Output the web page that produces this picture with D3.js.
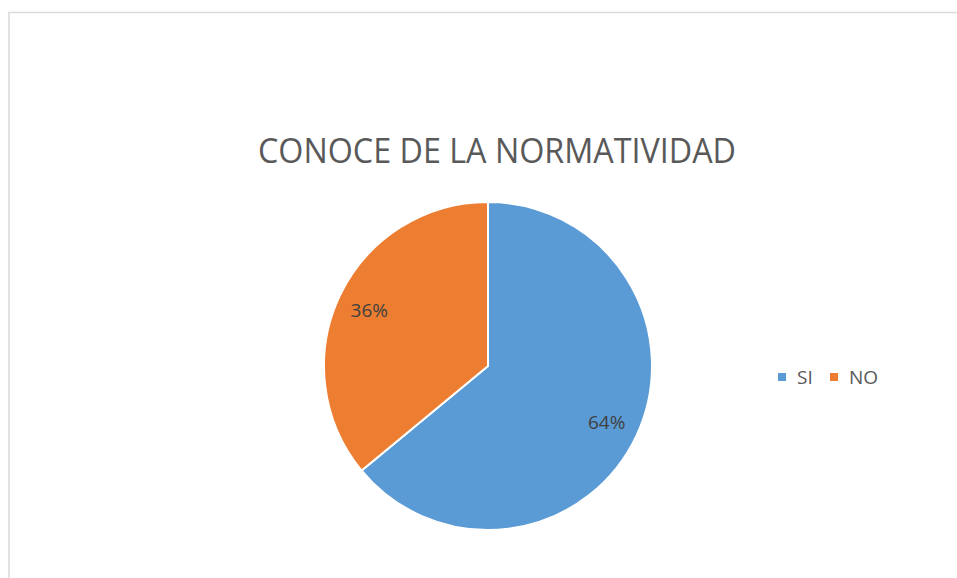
<!DOCTYPE html>
<html>
<head>
<meta charset="utf-8">
<script src="https://cdn.jsdelivr.net/npm/d3@7"></script>
<style>
  body { margin: 0; background: #fff; }
  text { font-family: "Open Sans", "Liberation Sans", sans-serif; }
</style>
</head>
<body>
<div id="chart"></div>
<script>
// data
var categories = ["SI", "NO"];
var values = [64, 36];
var colors = ["#5b9bd5", "#ed7d31"];
var chartTitle = "CONOCE DE LA NORMATIVIDAD";

var width = 957, height = 578;
var cx = 488, cy = 366, radius = 164;

var svg = d3.select("#chart").append("svg")
    .attr("width", width)
    .attr("height", height);

// chart area border (only top and left are visible)
svg.append("path")
    .attr("d", "M9,578 V12.5 H957")
    .attr("fill", "none")
    .attr("stroke", "#d9d9d9")
    .attr("stroke-width", 1.5);

// title, stretched to the width seen in the reference
var title = svg.append("text")
    .attr("x", 497)
    .attr("y", 163)
    .attr("text-anchor", "middle")
    .attr("fill", "#595959")
    .style("font-size", "34px")
    .text(chartTitle);
title.attr("textLength", 478).attr("lengthAdjust", "spacingAndGlyphs");

var data = categories.map(function(c, i) { return { name: c, value: values[i] }; });
var color = d3.scaleOrdinal().domain(categories).range(colors);

var pie = d3.pie().sort(null).value(function(d) { return d.value; });
var arc = d3.arc().innerRadius(0).outerRadius(radius);
var labelArc = d3.arc().innerRadius(radius * 0.8).outerRadius(radius * 0.8);

var g = svg.append("g")
    .attr("transform", "translate(" + cx + "," + cy + ")");

var slices = g.selectAll(".slice")
    .data(pie(data))
    .enter().append("g")
    .attr("class", "slice");

slices.append("path")
    .attr("d", arc)
    .attr("fill", function(d) { return color(d.data.name); })
    .attr("stroke", "#fff")
    .attr("stroke-width", 2);

var total = d3.sum(values);
slices.append("text")
    .attr("transform", function(d) { return "translate(" + labelArc.centroid(d) + ")"; })
    .attr("text-anchor", "middle")
    .attr("dy", "0.35em")
    .attr("fill", "#404040")
    .style("font-size", "19px")
    .text(function(d) { return Math.round(d.data.value / total * 100) + "%"; });

// legend
var legendX = [778, 830];
var legend = svg.selectAll(".legend")
    .data(categories)
    .enter().append("g")
    .attr("class", "legend")
    .attr("transform", function(d, i) { return "translate(" + legendX[i] + ",377)"; });

legend.append("rect")
    .attr("x", 0)
    .attr("y", -4)
    .attr("width", 8)
    .attr("height", 8)
    .attr("fill", function(d) { return color(d); });

legend.append("text")
    .attr("x", 19)
    .attr("dy", "0.35em")
    .attr("fill", "#595959")
    .style("font-size", "19px")
    .text(function(d) { return d; });
</script>
</body>
</html>
